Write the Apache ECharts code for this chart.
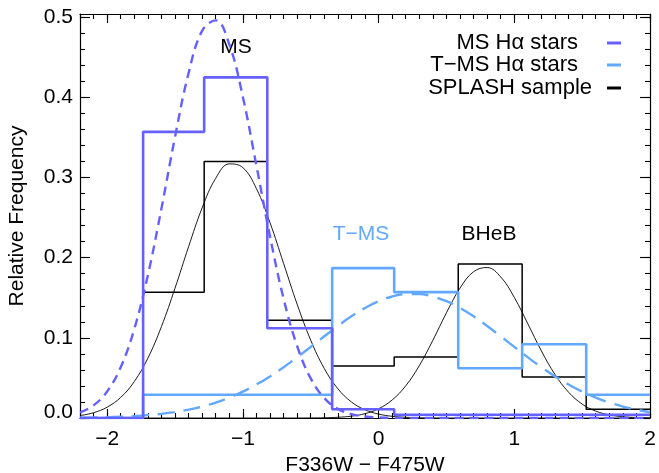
<!DOCTYPE html>
<html>
<head>
<meta charset="utf-8">
<script src="https://cdn.jsdelivr.net/npm/echarts@6/dist/echarts.min.js"></script>
<style>html,body{margin:0;padding:0;background:#fff}#c{width:659px;height:473px}</style>
</head>
<body>
<div id="c"></div>
<script>
// ---- data ----
const binEdges = [-2.2, -1.735, -1.285, -0.82, -0.342, 0.115, 0.587, 1.058, 1.53, 2.0];
const msHist     = [0, 0.357, 0.425, 0.112, 0.011, 0.004, 0.004, 0.004, 0.004];
const tmsHist    = [0, 0.029, 0.029, 0.029, 0.187, 0.157, 0.062, 0.092, 0.029];
const splashHist = [0, 0.157, 0.320, 0.122, 0.065, 0.076, 0.192, 0.051, 0.011];

const curveX = [-2.2,-2.1,-2.0,-1.9,-1.8,-1.7,-1.6,-1.5,-1.4,-1.3,-1.2,-1.1,-1.0,-0.9,-0.8,-0.7,-0.6,-0.5,-0.4,-0.3,-0.2,-0.1,0.0,0.1,0.2,0.3,0.4,0.5,0.6,0.7,0.8,0.9,1.0,1.1,1.2,1.3,1.4,1.5,1.6,1.7,1.8,1.9,2.0];
const msFit = [0.0069,0.0158,0.0331,0.0634,0.1110,0.1781,0.2612,0.3505,0.4302,0.4830,0.4961,0.4661,0.4006,0.3149,0.2265,0.1490,0.0897,0.0494,0.0249,0.0114,0.0048,0.0019,0.0007,0.0002,0.0001,0,0,0,0,0,0,0,0,0,0,0,0,0,0,0,0,0,0];
const tmsFit = [0.0004,0.0006,0.0010,0.0016,0.0024,0.0036,0.0052,0.0074,0.0104,0.0143,0.0193,0.0254,0.0329,0.0418,0.0519,0.0633,0.0757,0.0887,0.1019,0.1148,0.1268,0.1373,0.1457,0.1516,0.1546,0.1546,0.1516,0.1457,0.1373,0.1268,0.1148,0.1019,0.0887,0.0757,0.0633,0.0519,0.0418,0.0329,0.0254,0.0193,0.0143,0.0104,0.0074];
const splashMsFit = [0.0030,0.0066,0.0135,0.0257,0.0454,0.0746,0.1140,0.1619,0.2137,0.2621,0.2990,0.3170,0.3124,0.2861,0.2437,0.1929,0.1419,0.0971,0.0617,0.0365,0.0200,0.0102,0.0049,0.0021,0.0009,0.0003,0.0001,0,0,0,0,0,0,0,0,0,0,0,0,0,0,0,0];
const splashBhebFit = [0,0,0,0,0,0,0,0,0,0,0,0,0,0,0,0,0,0.0001,0.0003,0.0009,0.0023,0.0054,0.0115,0.0225,0.0401,0.0653,0.0969,0.1312,0.1620,0.1825,0.1877,0.1760,0.1505,0.1175,0.0836,0.0543,0.0322,0.0174,0.0086,0.0039,0.0016,0.0006,0.0002];

const xTickLabels = [-2, -1, 0, 1, 2];
const yTickLabels = [0, 0.1, 0.2, 0.3, 0.4, 0.5];
const legendNames = ['MS H\u03b1 stars', 'T\u2212MS H\u03b1 stars', 'SPLASH sample'];

// ---- helpers ----
const FONT = 'Liberation Sans, Arial, Helvetica, sans-serif';
const C_MS = '#6660ff', C_TMS = '#62a8ff', C_BLK = '#000000';
const X_MIN = -2.2, X_MAX = 2.0, Y_MIN = 0, Y_MAX = 0.504;

function stepData(edges, vals) {
  const d = [];
  for (let i = 0; i < vals.length; i++) d.push([edges[i], vals[i]]);
  d.push([edges[edges.length - 1], vals[vals.length - 1]]);
  return d;
}
function pairs(xs, ys) { return xs.map((x, i) => [x, ys[i]]); }

const xMinor = []; for (let k = -22; k <= 20; k++) xMinor.push(k / 10);
const yMinor = []; for (let k = 0; k <= 25; k++) yMinor.push(k / 50);

function xAx(pos, vals, len, labels, line) {
  return {
    type: 'value', position: pos, min: X_MIN, max: X_MAX,
    axisLine: { show: line, onZero: false, lineStyle: { color: '#000', width: 1.2 } },
    axisTick: { show: true, inside: true, length: len, customValues: vals, lineStyle: { color: '#000', width: 1.1 } },
    axisLabel: labels ? {
      show: true, customValues: xTickLabels, margin: 11, color: '#000', fontSize: 21, fontFamily: FONT,
      formatter: v => (v < 0 ? '\u2212' + Math.abs(v) : String(v))
    } : { show: false },
    splitLine: { show: false },
    name: labels ? 'F336W \u2212 F475W' : '', nameLocation: 'middle', nameGap: 34,
    nameTextStyle: { color: '#000', fontSize: 21, fontFamily: FONT }
  };
}
function yAx(pos, vals, len, labels, line) {
  return {
    type: 'value', position: pos, min: Y_MIN, max: Y_MAX,
    axisLine: { show: line, onZero: false, lineStyle: { color: '#000', width: 1.2 } },
    axisTick: { show: true, inside: true, length: len, customValues: vals, lineStyle: { color: '#000', width: 1.1 } },
    axisLabel: labels ? {
      show: true, customValues: yTickLabels, margin: 7, color: '#000', fontSize: 21, fontFamily: FONT,
      formatter: v => (v === 0 ? '{z|0.0}' : v.toFixed(1)),
      rich: { z: { fontSize: 21, fontFamily: FONT, color: '#000', padding: [0, 0, 12, 0] } }
    } : { show: false },
    splitLine: { show: false },
    name: labels ? 'Relative Frequency' : '', nameLocation: 'middle', nameGap: 52,
    nameTextStyle: { color: '#000', fontSize: 21, fontFamily: FONT }
  };
}

// legend drawn as graphic text (right aligned) + short line swatches
const legendRows = [
  { name: legendNames[0], color: C_MS, y: 43, textRight: 578 },
  { name: legendNames[1], color: C_TMS, y: 65, textRight: 578 },
  { name: legendNames[2], color: C_BLK, y: 88, textRight: 592 }
];
const legendGraphics = [];
legendRows.forEach(r => {
  legendGraphics.push({ type: 'text', x: r.textRight, y: r.y,
    style: { text: r.name, fill: '#000', font: '22px ' + FONT, align: 'right', verticalAlign: 'middle' } });
  legendGraphics.push({ type: 'line', shape: { x1: 607, y1: r.y, x2: 621, y2: r.y },
    style: { stroke: r.color, lineWidth: 3 } });
});

const chart = echarts.init(document.getElementById('c'), null, { renderer: 'canvas' });
chart.setOption({
  animation: false,
  backgroundColor: '#fff',
  grid: { left: 80, right: 9, top: 14, bottom: 55, outerBoundsMode: 'none' },
  xAxis: [
    xAx('bottom', xTickLabels, 9, true, true),
    xAx('bottom', xMinor, 5, false, false),
    xAx('top', xTickLabels, 9, false, true),
    xAx('top', xMinor, 5, false, false)
  ],
  yAxis: [
    yAx('left', yTickLabels, 10, true, true),
    yAx('left', yMinor, 5, false, false),
    yAx('right', yTickLabels, 10, false, true),
    yAx('right', yMinor, 5, false, false)
  ],
  graphic: legendGraphics.concat([
    { type: 'text', x: 236, y: 47, style: { text: 'MS', fill: '#000', font: '21px ' + FONT, align: 'center', verticalAlign: 'middle' } },
    { type: 'text', x: 361, y: 234, style: { text: 'T\u2212MS', fill: C_TMS, font: '21px ' + FONT, align: 'center', verticalAlign: 'middle' } },
    { type: 'text', x: 489, y: 234, style: { text: 'BHeB', fill: '#000', font: '21px ' + FONT, align: 'center', verticalAlign: 'middle' } }
  ]),
  series: [
    { name: legendNames[2], type: 'line', step: 'end', symbol: 'none', data: stepData(binEdges, splashHist),
      color: C_BLK, lineStyle: { color: C_BLK, width: 1.5 } },
    { name: 'SPLASH MS fit', type: 'line', smooth: 0.4, symbol: 'none', data: pairs(curveX, splashMsFit),
      lineStyle: { color: C_BLK, width: 0.9 } },
    { name: 'SPLASH BHeB fit', type: 'line', smooth: 0.4, symbol: 'none', data: pairs(curveX, splashBhebFit),
      lineStyle: { color: C_BLK, width: 0.9 } },
    { name: legendNames[1], type: 'line', step: 'end', symbol: 'none', data: stepData(binEdges, tmsHist),
      color: C_TMS, lineStyle: { color: C_TMS, width: 2.6 } },
    { name: 'T-MS fit', type: 'line', smooth: 0.4, symbol: 'none', data: pairs(curveX, tmsFit),
      lineStyle: { color: C_TMS, width: 2.4, type: [17, 9] } },
    { name: legendNames[0], type: 'line', step: 'end', symbol: 'none', data: stepData(binEdges, msHist),
      color: C_MS, lineStyle: { color: C_MS, width: 2.6 } },
    { name: 'MS fit', type: 'line', smooth: 0.4, symbol: 'none', data: pairs(curveX, msFit),
      lineStyle: { color: C_MS, width: 2.4, type: [9, 6] } }
  ]
});
</script>
</body>
</html>
